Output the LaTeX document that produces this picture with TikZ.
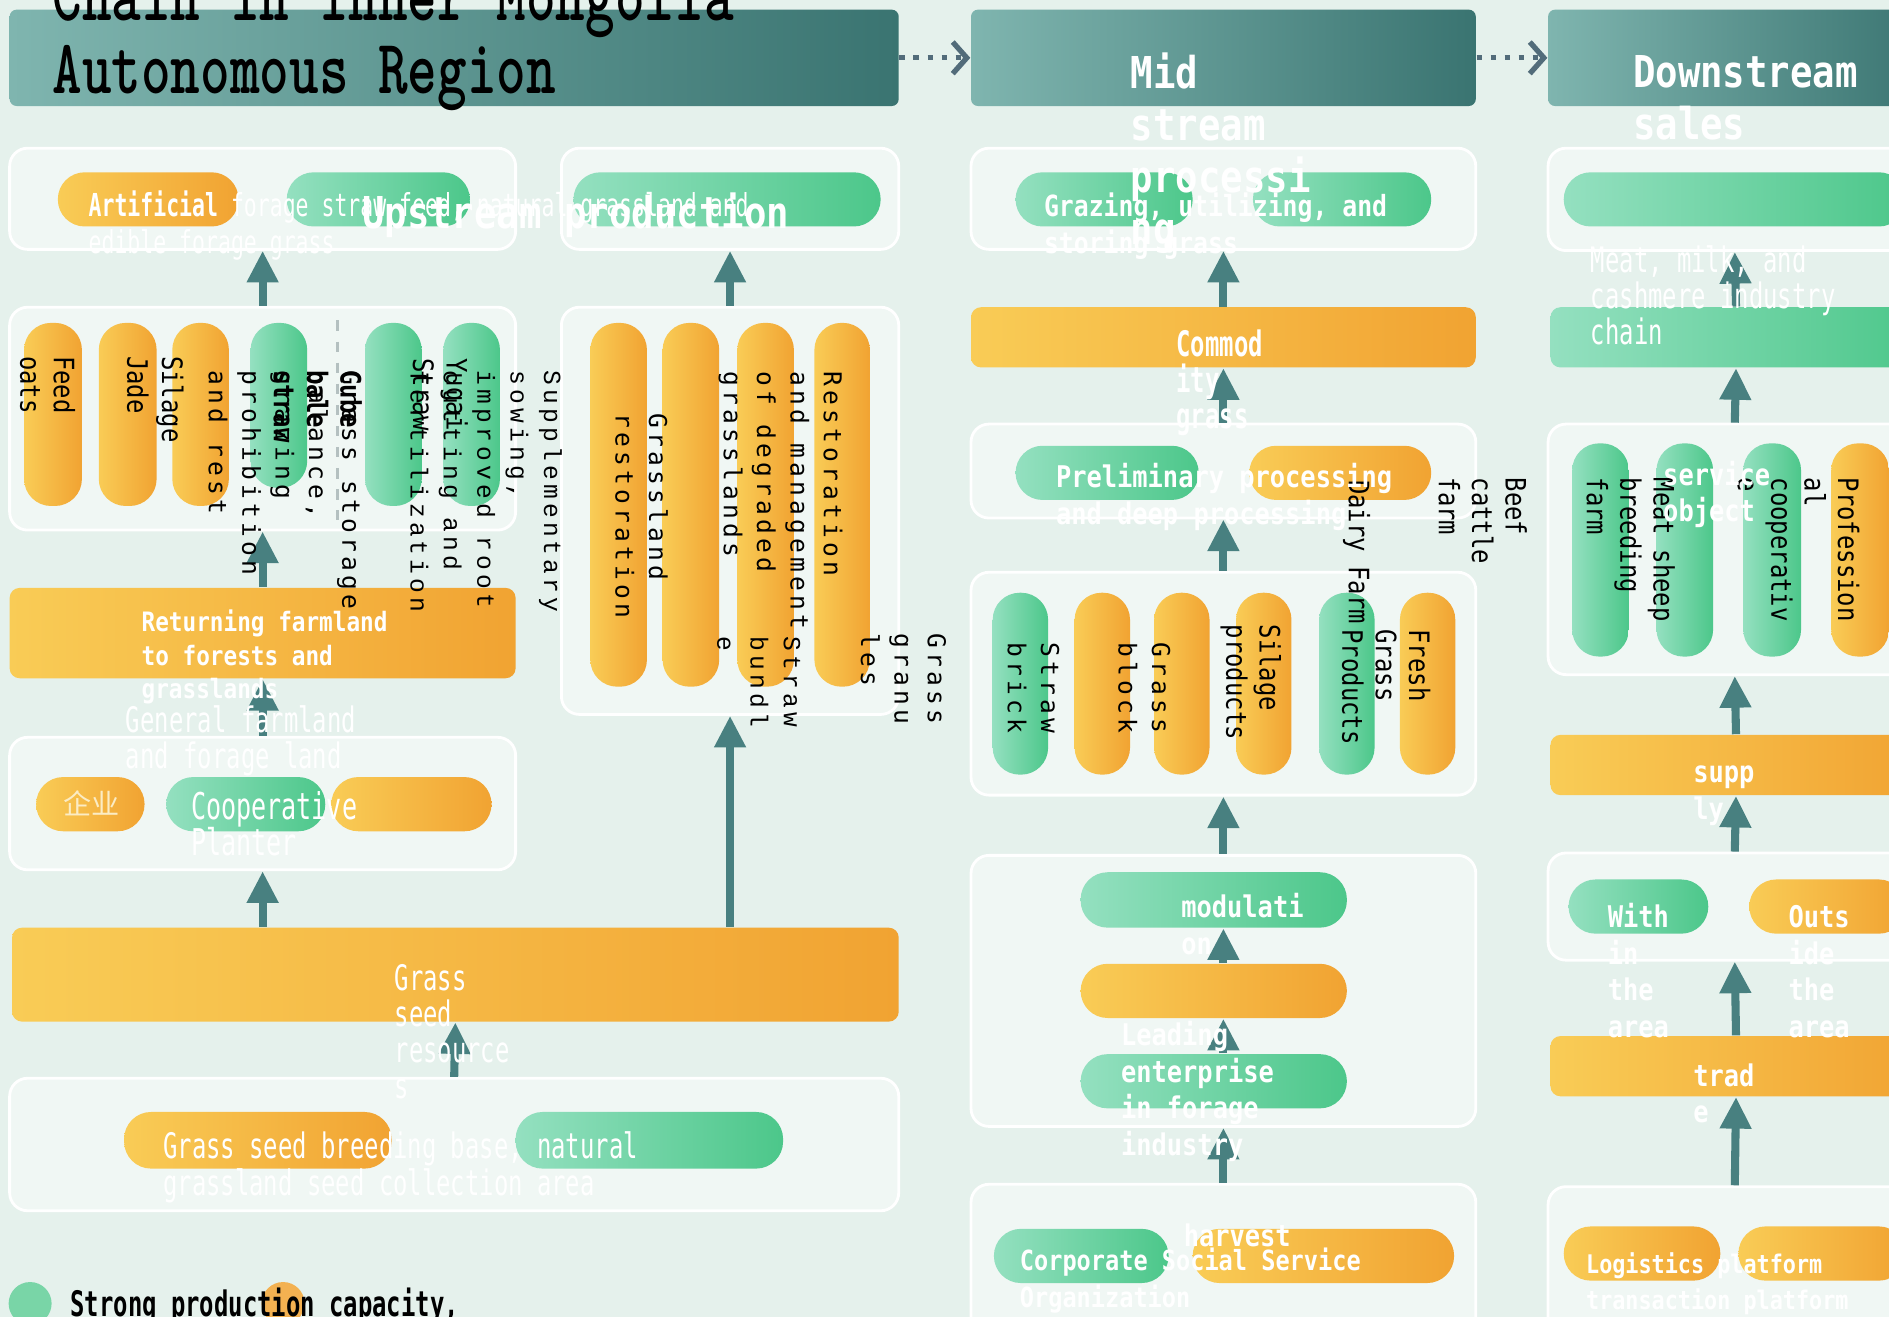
\documentclass[tikz,border=0pt]{standalone}
\usepackage{graphicx}
\usepackage{fontspec}
\setmainfont{DejaVu Sans}
\newfontfamily\lblfont[FakeStretch=0.68]{DejaVu Sans Mono}
\newfontfamily\monofont[FakeStretch=0.85]{DejaVu Sans Mono}
\newfontfamily\spfont[LetterSpace=17]{DejaVu Sans Mono}
\newfontfamily\spserif[LetterSpace=17]{Liberation Mono}
\newfontfamily\cjkfont{Noto Sans CJK SC}
\usetikzlibrary{arrows.meta, fit, calc}
\definecolor{BgC}{RGB}{229,241,236}
\definecolor{PanelC}{RGB}{240,247,244}
\definecolor{HdA}{RGB}{127,181,175}
\definecolor{HdB}{RGB}{58,116,113}
\definecolor{OrA}{RGB}{249,204,86}
\definecolor{OrB}{RGB}{241,163,50}
\definecolor{GrA}{RGB}{148,224,192}
\definecolor{GrB}{RGB}{76,199,138}
\definecolor{ArrC}{RGB}{72,128,128}
\definecolor{DotC}{RGB}{82,108,122}
\definecolor{Cream}{RGB}{251,236,196}
\definecolor{SepC}{RGB}{180,192,192}

\begin{document}
\begin{tikzpicture}[x=0.012047cm, y=-0.012047cm,
	panel/.style={fill=PanelC, draw=white, line width=0.8pt, rounded corners=1.8mm, inner sep=0pt},
	hdr/.style={left color=HdA, right color=HdB, rounded corners=0.7mm, inner sep=0pt},
	po/.style={left color=OrA, right color=OrB, rounded corners=2.7mm, inner sep=0pt},
	pg/.style={left color=GrA, right color=GrB, rounded corners=2.7mm, inner sep=0pt},
	barO/.style={po, rounded corners=1mm},
	barG/.style={pg, rounded corners=1mm},
	flow/.style={-{Triangle[length=9pt,width=8.5pt]}, line width=2.3pt, ArrC},
	dotarr/.style={-{Straight Barb[length=4pt,width=9pt]}, line width=1.5pt, DotC, dash pattern=on 1.5pt off 2.5pt},
	ttlt/.style={anchor=base west, inner sep=0pt, font=\ttfamily\bfseries\fontsize{22}{22}\selectfont},
	lbl/.style={anchor=base west, inner sep=0pt, align=left, text=white, font=\lblfont\fontsize{10}{10.3}\selectfont},
	mlbl/.style={anchor=base west, inner sep=0pt, align=left, text=white, font=\monofont\bfseries\fontsize{8.5}{10.4}\selectfont},
	hlbl/.style={mlbl, font=\monofont\bfseries\fontsize{12.5}{14.8}\selectfont},
	vt/.style={rotate=-90, anchor=north west, inner sep=0pt, align=left, text=black},
	spv/.style={vt, font=\spfont\fontsize{7}{9.5}\selectfont},
	srv/.style={vt, font=\spserif\fontsize{7}{9.5}\selectfont},
	nvv/.style={vt, font=\monofont\fontsize{8}{9.5}\selectfont}]

	\useasboundingbox (0,0) rectangle (1568,1093);
	\clip (0,0) rectangle (1568,1093);
	\fill[BgC] (0,0) rectangle (1568,1093);

	% header bars
	\node[hdr, fit={(8,8) (746,88)}] (h1) {};
	\node[hdr, fit={(806,8) (1225,88)}] (h2) {};
	\node[hdr, fit={(1285,8) (1600,88)}] (h3) {};
	\draw[dotarr] (h1.east) -- (h2.west);
	\draw[dotarr] (h2.east) -- (h3.west);

	% upstream
	\node[panel, fit={(8,123) (428,207)}] (p1) {};
	\node[po, fit={(48,143) (198,188)}] (p1a) {};
	\node[pg, fit={(238,143) (390,188)}] (p1b) {};
	\node[panel, fit={(466,123) (746,207)}] (p2) {};
	\node[pg, fit={(476,143) (731,188)}] (p2a) {};

	\node[panel, fit={(8,255) (428,440)}] (p3) {};
	\foreach \nm/\xa/\xb/\yb/\sty in {1/20/68/420/po, 2/82/130/420/po, 3/143/190/420/po,
		4/208/255/405/pg, 5/303/350/420/pg, 6/368/415/420/pg}
		{\node[\sty, fit={(\xa,268) (\xb,\yb)}] (p3\nm) {};}
	\draw[SepC, dashed, line width=0.8pt] (280,266) -- (280,432);

	\node[panel, fit={(466,255) (746,593)}] (p4) {};
	\foreach \nm/\xa/\xb in {1/490/537, 2/550/597, 3/612/659, 4/676/722}
		{\node[po, fit={(\xa,268) (\xb,570)}] (p4\nm) {};}

	\node[barO, fit={(8,488) (428,563)}] (b1) {};

	\node[panel, fit={(8,612) (428,722)}] (p5) {};
	\node[po, fit={(30,645) (120,690)}] (p5a) {};
	\node[pg, fit={(138,645) (270,690)}] (p5b) {};
	\node[po, fit={(275,645) (408,690)}] (p5c) {};

	\node[barO, fit={(10,770) (746,848)}] (b2) {};

	\node[panel, fit={(8,895) (746,1005)}] (p6) {};
	\node[po, fit={(103,923) (325,970)}] (p6a) {};
	\node[pg, fit={(428,923) (650,970)}] (p6b) {};

	% midstream
	\node[panel, fit={(806,123) (1225,207)}] (m1) {};
	\node[pg, fit={(843,143) (990,188)}] (m1a) {};
	\node[pg, fit={(1040,143) (1188,188)}] (m1b) {};
	\node[barO, fit={(806,255) (1225,305)}] (m2) {};
	\node[panel, fit={(806,352) (1225,430)}] (m3) {};
	\node[pg, fit={(843,370) (995,415)}] (m3a) {};
	\node[po, fit={(1037,370) (1188,415)}] (m3b) {};
	\node[panel, fit={(806,475) (1225,660)}] (m4) {};
	\foreach \nm/\xa/\xb/\sty in {1/824/870/pg, 2/892/938/po, 3/958/1004/po,
		4/1026/1072/po, 5/1095/1141/pg, 6/1162/1208/po}
		{\node[\sty, fit={(\xa,492) (\xb,643)}] (m4\nm) {};}
	\node[panel, fit={(806,710) (1225,935)}] (m5) {};
	\foreach \nm/\ya/\yb/\sty in {1/724/770/pg, 2/800/845/po, 3/875/920/pg}
		{\node[\sty, fit={(897,\ya) (1118,\yb)}] (m5\nm) {};}
	\node[panel, fit={(806,983) (1225,1110)}] (m6) {};
	\node[pg, fit={(825,1020) (970,1065)}] (m6a) {};
	\node[po, fit={(990,1020) (1207,1065)}] (m6b) {};

	% downstream
	\node[panel, fit={(1285,123) (1595,208)}] (r1) {};
	\node[pg, fit={(1298,143) (1582,188)}] (r1a) {};
	\node[barG, fit={(1287,255) (1595,305)}] (r2) {};
	\node[panel, fit={(1285,352) (1595,560)}] (r3) {};
	\foreach \nm/\xa/\xb/\sty in {1/1305/1352/pg, 2/1375/1422/pg, 3/1447/1495/pg, 4/1520/1568/po}
		{\node[\sty, fit={(\xa,368) (\xb,545)}] (r3\nm) {};}
	\node[barO, fit={(1287,610) (1595,660)}] (r4) {};
	\node[panel, fit={(1285,708) (1595,797)}] (r5) {};
	\node[pg, fit={(1302,730) (1418,775)}] (r5a) {};
	\node[po, fit={(1452,730) (1582,775)}] (r5b) {};
	\node[barO, fit={(1287,860) (1595,910)}] (r6) {};
	\node[panel, fit={(1285,985) (1595,1110)}] (r7) {};
	\node[po, fit={(1298,1018) (1428,1063)}] (r7a) {};
	\node[po, fit={(1443,1018) (1582,1063)}] (r7b) {};

	% arrows
	\draw[flow] (p3.north) -- (p1.south);
	\draw[flow] (p4.north) -- (p2.south);
	\draw[flow] (b1.north) -- (p3.south);
	\draw[flow] (p5.north) -- (b1.south);
	\draw[flow] (b2.north -| p5.south) -- (p5.south);
	\draw[flow] (b2.north -| p4.south) -- (p4.south);
	\draw[flow] (p6.north) -- (b2.south);
	\draw[flow] (m2.north) -- (m1.south);
	\draw[flow] (m3.north) -- (m2.south);
	\draw[flow] (m4.north) -- (m3.south);
	\draw[flow] (m5.north) -- (m4.south);
	\draw[flow] (m52.north -| m5.south) -- (m51.south -| m5.south);
	\draw[flow] (m53.north -| m5.south) -- (m52.south -| m5.south);
	\draw[flow] (m6.north) -- (m5.south);
	\draw[flow] (r2.north) -- (r1.south);
	\draw[flow] (r3.north) -- (r2.south);
	\draw[flow] (r4.north) -- (r3.south);
	\draw[flow] (r5.north) -- (r4.south);
	\draw[flow] (r6.north) -- (r5.south);
	\draw[flow] (r7.north) -- (r6.south);

	% legend
	\node[circle, fill=GrB!75, minimum size=4.3mm, inner sep=0pt] (lgG) at (25,1082) {};
	\node[circle, fill=OrB!85, minimum size=4.3mm, inner sep=0pt] (lgO) at (235,1082) {};
	\node[lbl, text=black, font=\lblfont\bfseries\fontsize{10}{10.3}\selectfont] (lgT) at (58,1093) {Strong production capacity,};

	% vertical texts
	\node[nvv] (vFeed) at (63,295) {Feed\\oats};
	\node[nvv] (vJade) at (124,295) {Jade};
	\node[nvv] (vSil) at (153,295) {Silage};
	\node[spv] (vGst) at (300,307) {Grass storage\\balance,\\grazing\\prohibition\\and rest};
	\node[nvv, font=\monofont\bfseries\fontsize{8}{9.5}\selectfont] (vCake) at (301,307) {Cube\\bale\\straw};
	\node[srv] (vSup) at (467,307) {Supplementary\\sowing,\\improved root\\cutting and\\fertilization};
	\node[nvv] (vYug) at (389,297) {Yugai\\Straw};
	\node[spv] (vRes) at (700,308) {Restoration\\and management\\of degraded\\grasslands};
	\node[spv] (vGres) at (555,343) {Grassland\\restoration};
	\node[srv] (vBund) at (665,528) {Straw\\bundl\\e};
	\node[spv] (vGran) at (786,525) {Grass\\granu\\les};
	\node[spv] (vBrick) at (880,533) {Straw\\brick};
	\node[spv] (vBlock) at (972,533) {Grass\\block};
	\node[nvv] (vSilp) at (1064,518) {Silage\\products};
	\node[nvv] (vFresh) at (1188,522) {Fresh\\Grass\\Products};
	\node[nvv] (vDairy) at (1138,398) {Dairy Farm};
	\node[nvv] (vBeef) at (1268,396) {Beef\\cattle\\farm};
	\node[nvv] (vSheep) at (1391,396) {Meat sheep\\breeding\\farm};
	\node[nvv] (vProf) at (1544,396) {Profession\\al\\cooperativ\\e};

	% titles and labels (base = last line)
	\node[ttlt] (ttl1) at (43,17) {\scalebox{0.73}[1]{Chain in Inner Mongolia}};
	\node[ttlt] (ttl2) at (43,78) {\scalebox{0.73}[1]{Autonomous Region}};
	\node[hlbl] (tMid) at (938,203) {Mid\\stream\\processi\\ng};
	\node[hlbl] (tDown) at (1355,116) {Downstream\\sales};
	\node[lbl, font=\lblfont\fontsize{9}{10.3}\selectfont] (lArt) at (73,210)
		{{\bfseries Artificial} forage straw feed, natural grassland and\\edible forage grass};
	\node[hlbl] (tUp) at (300,190) {Upstream production};
	\node[mlbl, font=\monofont\bfseries\fontsize{7.6}{9.6}\selectfont] (lRet) at (117,580)
		{Returning farmland\\to forests and\\grasslands};
	\node[lbl] (lGen) at (104,638) {General farmland\\and forage land};
	\node[anchor=base west, inner sep=0pt, text=Cream, font=\cjkfont\fontsize{8}{8}\selectfont] (lEnt) at (52,676) {企业};
	\node[lbl, font=\lblfont\fontsize{10.5}{10.3}\selectfont] (lCoop) at (158,710) {Cooperative\\Planter};
	\node[lbl] (lSeed) at (327,912) {Grass\\seed\\resource\\s};
	\node[lbl] (lBase) at (135,992) {Grass seed breeding base, natural\\grassland seed collection area};

	\node[mlbl, font=\monofont\bfseries\fontsize{8.3}{10.4}\selectfont] (lGraz) at (866,210) {Grazing, utilizing, and\\storing grass};
	\node[lbl, font=\lblfont\bfseries\fontsize{10}{10.3}\selectfont] (lComm) at (976,356) {Commod\\ity\\grass};
	\node[mlbl] (lPre) at (876,435) {Preliminary processing\\and deep processing};
	\node[mlbl] (lMod) at (980,792) {modulati\\on};
	\node[mlbl] (lLead) at (930,959) {Leading\\enterprise\\in forage\\industry};
	\node[mlbl] (lHarv) at (982,1035) {harvest};
	\node[mlbl, font=\monofont\bfseries\fontsize{7.9}{10.4}\selectfont] (lCorp) at (846,1085) {Corporate Social Service\\Organization};

	\node[lbl] (lMeat) at (1320,286) {Meat, milk, and\\cashmere industry\\chain};
	\node[mlbl] (lServ) at (1380,433) {service\\object};
	\node[mlbl] (lSupp) at (1405,680) {supp\\ly};
	\node[mlbl] (lWith) at (1334,861) {With\\in\\the\\area};
	\node[mlbl] (lOuts) at (1484,861) {Outs\\ide\\the\\area};
	\node[mlbl] (lTrad) at (1405,932) {trad\\e};
	\node[mlbl, font=\monofont\bfseries\fontsize{7.3}{10.4}\selectfont] (lLog) at (1316,1087) {Logistics platform\\transaction platform};
\end{tikzpicture}
\end{document}
